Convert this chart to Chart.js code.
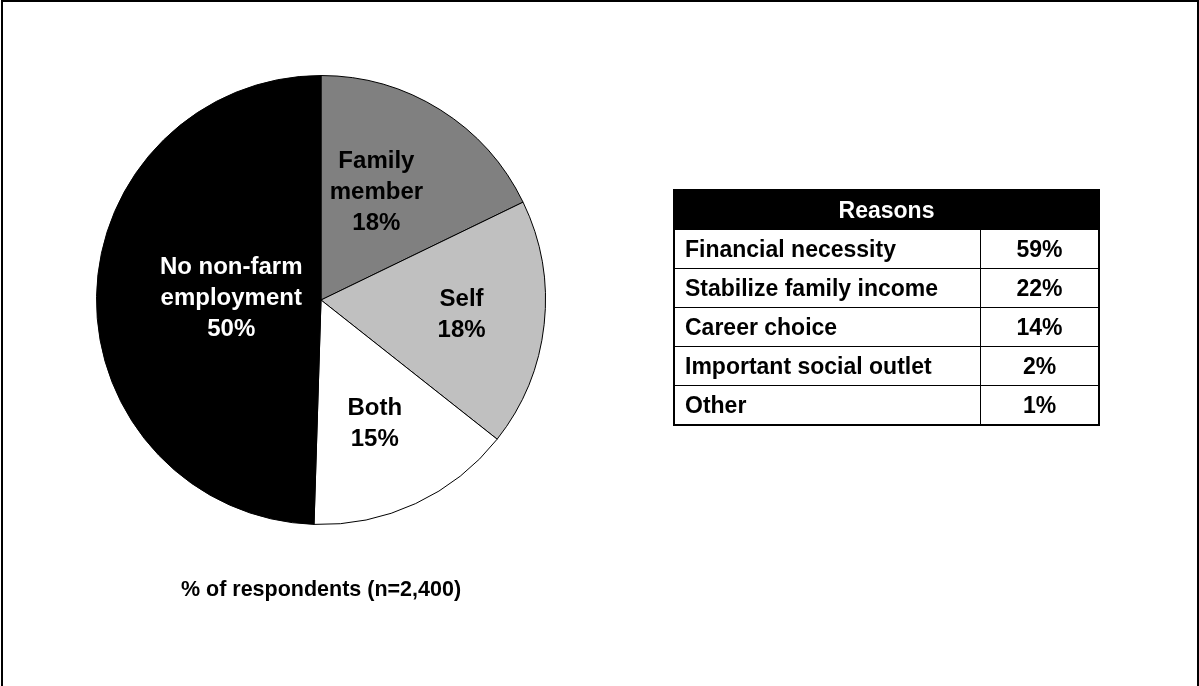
<!DOCTYPE html>
<html lang="en">
<head>
    <meta charset="UTF-8">
    <title>Non-farm employment</title>
    <script src="https://cdn.jsdelivr.net/npm/chart.js"></script>
    <style>
        body {
            margin: 0;
            padding: 0;
            background-color: #fff;
            font-family: "Liberation Sans", Arial, sans-serif;
            font-weight: bold;
            width: 1199px;
            height: 686px;
            overflow: hidden;
            position: relative;
        }
        .frame {
            position: absolute;
            left: 1px;
            top: 0;
            width: 1194px;
            height: 700px;
            border: 2px solid #000;
        }
        .chart-container {
            position: absolute;
            left: 0;
            top: 0;
            width: 1199px;
            height: 686px;
        }
        .caption {
            position: absolute;
            left: 121px;
            width: 400px;
            top: 577px;
            text-align: center;
            font-size: 21.5px;
        }
        table.reasons {
            position: absolute;
            left: 673px;
            top: 189px;
            width: 427px;
            border-collapse: collapse;
            border: 2px solid #000;
            font-size: 23px;
        }
        table.reasons th {
            background-color: #000;
            color: #fff;
            height: 38px;
            padding: 0;
            text-align: center;
        }
        table.reasons td {
            border: 1.5px solid #000;
            height: 38px;
            padding: 0 0 0 10px;
        }
        table.reasons td.val {
            text-align: center;
            padding: 0;
            width: 117px;
        }
    </style>
</head>
<body>
    <div class="frame"></div>
    <div class="chart-container">
        <canvas id="pieChart" width="1199" height="686"></canvas>
    </div>
    <div class="caption">% of respondents (n=2,400)</div>
    <table class="reasons" id="reasonsTable"></table>

    <script>
        // pie data, clockwise from 12 o'clock
        const sliceLabels = [['Family', 'member'], ['Self'], ['Both'], ['No non-farm', 'employment']];
        const sliceValues = [18, 18, 15, 50];
        const sliceColors = ['#808080', '#c0c0c0', '#ffffff', '#000000'];
        const labelColors = ['#000', '#000', '#000', '#fff'];

        // table on the right
        const reasonLabels = ['Financial necessity', 'Stabilize family income', 'Career choice', 'Important social outlet', 'Other'];
        const reasonValues = [59, 22, 14, 2, 1];

        // build the reasons table
        const table = document.getElementById('reasonsTable');
        let html = '<tr><th colspan="2">Reasons</th></tr>';
        reasonLabels.forEach((label, i) => {
            html += '<tr><td>' + label + '</td><td class="val">' + reasonValues[i] + '%</td></tr>';
        });
        table.innerHTML = html;

        // draws the multi-line labels inside each slice
        const sliceLabelPlugin = {
            id: 'sliceLabels',
            afterDatasetsDraw(chart, args, opts) {
                const ctx = chart.ctx;
                const meta = chart.getDatasetMeta(0);
                ctx.save();
                ctx.font = 'bold 24px "Liberation Sans", Arial, sans-serif';
                ctx.textAlign = 'center';
                ctx.textBaseline = 'middle';
                meta.data.forEach((arc, i) => {
                    const p = arc.getProps(['x', 'y', 'startAngle', 'endAngle', 'outerRadius'], true);
                    const mid = (p.startAngle + p.endAngle) / 2;
                    const r = p.outerRadius * opts.radius[i];
                    const cx = p.x + Math.cos(mid) * r + opts.shiftX[i];
                    const cy = p.y + Math.sin(mid) * r + opts.shiftY[i];
                    const lines = sliceLabels[i].concat([sliceValues[i] + '%']);
                    const lh = 31;
                    const y0 = cy - (lines.length - 1) * lh / 2;
                    ctx.fillStyle = labelColors[i];
                    lines.forEach((line, j) => ctx.fillText(line, cx, y0 + j * lh));
                });
                ctx.restore();
            }
        };

        const ctxPie = document.getElementById('pieChart').getContext('2d');
        const pieChart = new Chart(ctxPie, {
            type: 'pie',
            data: {
                labels: sliceLabels.map(l => l.join(' ')),
                datasets: [{
                    data: sliceValues,
                    backgroundColor: sliceColors,
                    borderColor: '#000',
                    borderWidth: 1
                }]
            },
            options: {
                responsive: false,
                animation: false,
                layout: {
                    padding: { left: 96, right: 653, top: 75, bottom: 161 }
                },
                plugins: {
                    legend: { display: false },
                    tooltip: { enabled: false },
                    sliceLabels: {
                        radius: [0.54, 0.63, 0.61, 0.40],
                        shiftX: [-9, 0, -4, 0],
                        shiftY: [-5, 0, 0, 0]
                    }
                }
            },
            plugins: [sliceLabelPlugin]
        });
    </script>
</body>
</html>
